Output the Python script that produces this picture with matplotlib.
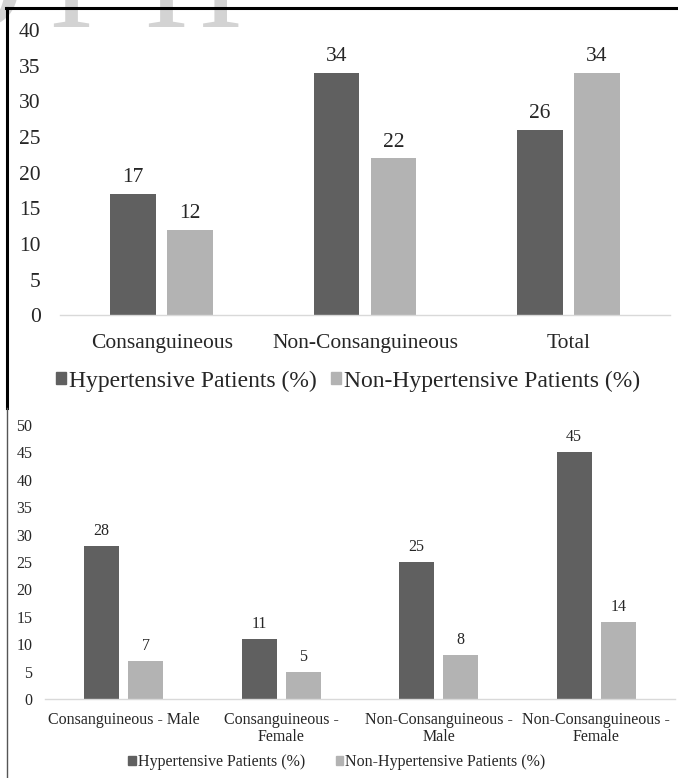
import matplotlib.pyplot as plt
from matplotlib.lines import Line2D
from matplotlib.patches import Patch

# data
top_categories = ['Consanguineous', 'Non-Consanguineous', 'Total']
top_hypertensive = [17, 34, 26]
top_non_hypertensive = [12, 22, 34]

bottom_categories = ['Consanguineous - Male', 'Consanguineous -\nFemale',
                     'Non-Consanguineous -\nMale', 'Non-Consanguineous -\nFemale']
bottom_hypertensive = [28, 11, 25, 45]
bottom_non_hypertensive = [7, 5, 8, 14]

series_names = ['Hypertensive Patients (%)', 'Non-Hypertensive Patients (%)']
dark = '#606060'
light = '#b3b3b3'
text_color = '#262626'

plt.rcParams['font.family'] = ['Liberation Serif', 'DejaVu Serif']

W, H = 678, 778
fig = plt.figure(figsize=(W / 100, H / 100), dpi=100)


def px_axes(left, right, y0, ytop):
    # pixel box -> figure coords
    return fig.add_axes([left / W, 1 - y0 / H, (right - left) / W, (y0 - ytop) / H])


def draw_panel(ax, cats, s1, s2, ymax, step, fs, label_gap, tick_pad, ytick_pad):
    x = range(len(cats))
    w = 0.224
    off = 0.14
    b1 = ax.bar([i - off for i in x], s1, width=w, color=dark)
    b2 = ax.bar([i + off for i in x], s2, width=w, color=light)
    for bars, vals in ((b1, s1), (b2, s2)):
        for r, v in zip(bars, vals):
            ax.annotate(str(v), (r.get_x() + r.get_width() / 2, v),
                        xytext=(0, label_gap), textcoords='offset points',
                        ha='center', va='bottom', fontsize=fs, color=text_color)
    ax.set_xlim(-0.5, len(cats) - 0.5)
    ax.set_ylim(0, ymax)
    ax.set_yticks(range(0, ymax + 1, step))
    ax.set_xticks(list(x))
    ax.set_xticklabels(cats, fontsize=fs, color=text_color, linespacing=1.15)
    ax.tick_params(axis='x', length=0, pad=tick_pad)
    ax.tick_params(axis='y', length=0, pad=ytick_pad, labelsize=fs, labelcolor=text_color)
    for s in ['top', 'right', 'left']:
        ax.spines[s].set_visible(False)
    ax.spines['bottom'].set_color('#d9d9d9')
    ax.spines['bottom'].set_linewidth(1)


ax1 = px_axes(60, 670, 315.5, 30)
draw_panel(ax1, top_categories, top_hypertensive, top_non_hypertensive,
           40, 5, 15.5, 5, 13, 14)

ax2 = px_axes(45, 675, 699, 425)
draw_panel(ax2, bottom_categories, bottom_hypertensive, bottom_non_hypertensive,
           50, 5, 11.5, 5, 9, 9)

handles = [Patch(color=dark), Patch(color=light)]
fig.legend(handles, series_names, loc='center', bbox_to_anchor=(348 / W, 1 - 381 / H),
           ncol=2, frameon=False, fontsize=17, handlelength=0.42, handleheight=0.42,
           handletextpad=0.12, columnspacing=0.6, labelcolor=text_color)
fig.legend(handles, series_names, loc='center', bbox_to_anchor=(337 / W, 1 - 762 / H),
           ncol=2, frameon=False, fontsize=11.5, handlelength=0.45, handleheight=0.45,
           handletextpad=0.15, columnspacing=1.9, labelcolor=text_color)

# faint watermark letters cut off at the top edge
for ch, cx in (('O', -25), ('I', 71), ('H', 193)):
    fig.text(cx / W, 1 - 27 / H, ch, ha='center', va='baseline', fontsize=97,
             color='#d3d3d3', zorder=0)

# frame lines around the panels
fig.add_artist(Line2D([6 / W, 1], [1 - 8 / H, 1 - 8 / H], color='black', lw=2.2,
                      transform=fig.transFigure))
fig.add_artist(Line2D([7 / W, 7 / W], [1 - 8 / H, 1 - 408 / H], color='black', lw=2.2,
                      transform=fig.transFigure))
fig.add_artist(Line2D([7 / W, 7 / W], [1 - 408 / H, 0], color='#555555', lw=1,
                      transform=fig.transFigure))

fig.savefig('out.png', dpi=100)
